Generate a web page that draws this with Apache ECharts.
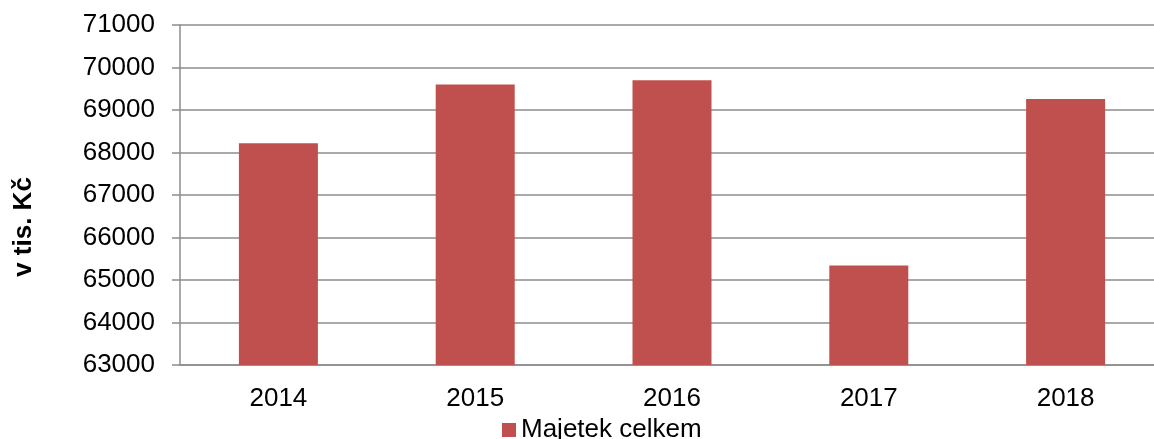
<!DOCTYPE html>
<html>
<head>
<meta charset="utf-8">
<script src="https://cdn.jsdelivr.net/npm/echarts@6/dist/echarts.min.js"></script>
<style>
	html, body { margin: 0; padding: 0; background: #fff; }
	#chart { width: 1154px; height: 439px; }
</style>
</head>
<body>
<div id="chart"></div>
<script>
	// data
	var years = ['2014', '2015', '2016', '2017', '2018'];
	var majetek = [68220, 69600, 69700, 65340, 69260];
	var seriesName = 'Majetek celkem';
	var axisTitle = 'v tis. Kč';

	var font = '"Liberation Sans", Arial, sans-serif';
	var chart = echarts.init(document.getElementById('chart'));

	var option = {
		animation: false,
		textStyle: { fontFamily: font },
		grid: {
			left: 180,
			width: 984,
			top: 25,
			bottom: 74,
			outerBoundsMode: 'none'
		},
		legend: {
			data: [seriesName],
			left: 502,
			top: 417,
			padding: 0,
			itemWidth: 14,
			itemHeight: 14,
			icon: 'rect',
			textStyle: { fontSize: 26, color: '#000', fontFamily: font }
		},
		xAxis: {
			type: 'category',
			data: years,
			axisLine: { lineStyle: { color: '#8c8c8c', width: 1.5 } },
			axisTick: { show: false },
			axisLabel: { fontSize: 26, color: '#000', margin: 21, fontFamily: font }
		},
		yAxis: {
			type: 'value',
			min: 63000,
			max: 71000,
			interval: 1000,
			axisLine: { show: true, lineStyle: { color: '#8c8c8c', width: 1.5 } },
			axisTick: { show: true, length: 8, lineStyle: { color: '#8c8c8c', width: 1.5 } },
			axisLabel: {
				fontSize: 26, color: '#000', margin: 25, fontFamily: font,
				formatter: function (v) { return String(v); }
			},
			splitLine: { lineStyle: { color: '#8c8c8c', width: 1.5 } }
		},
		graphic: [{
			type: 'text',
			x: 24,
			y: 227,
			rotation: Math.PI / 2,
			style: {
				text: axisTitle,
				font: 'bold 26px ' + font,
				fill: '#000',
				textAlign: 'center',
				textVerticalAlign: 'middle'
			}
		}],
		series: [{
			name: seriesName,
			type: 'bar',
			data: majetek,
			barWidth: 79,
			itemStyle: { color: '#C0504D' }
		}]
	};
	chart.setOption(option);
</script>
</body>
</html>
